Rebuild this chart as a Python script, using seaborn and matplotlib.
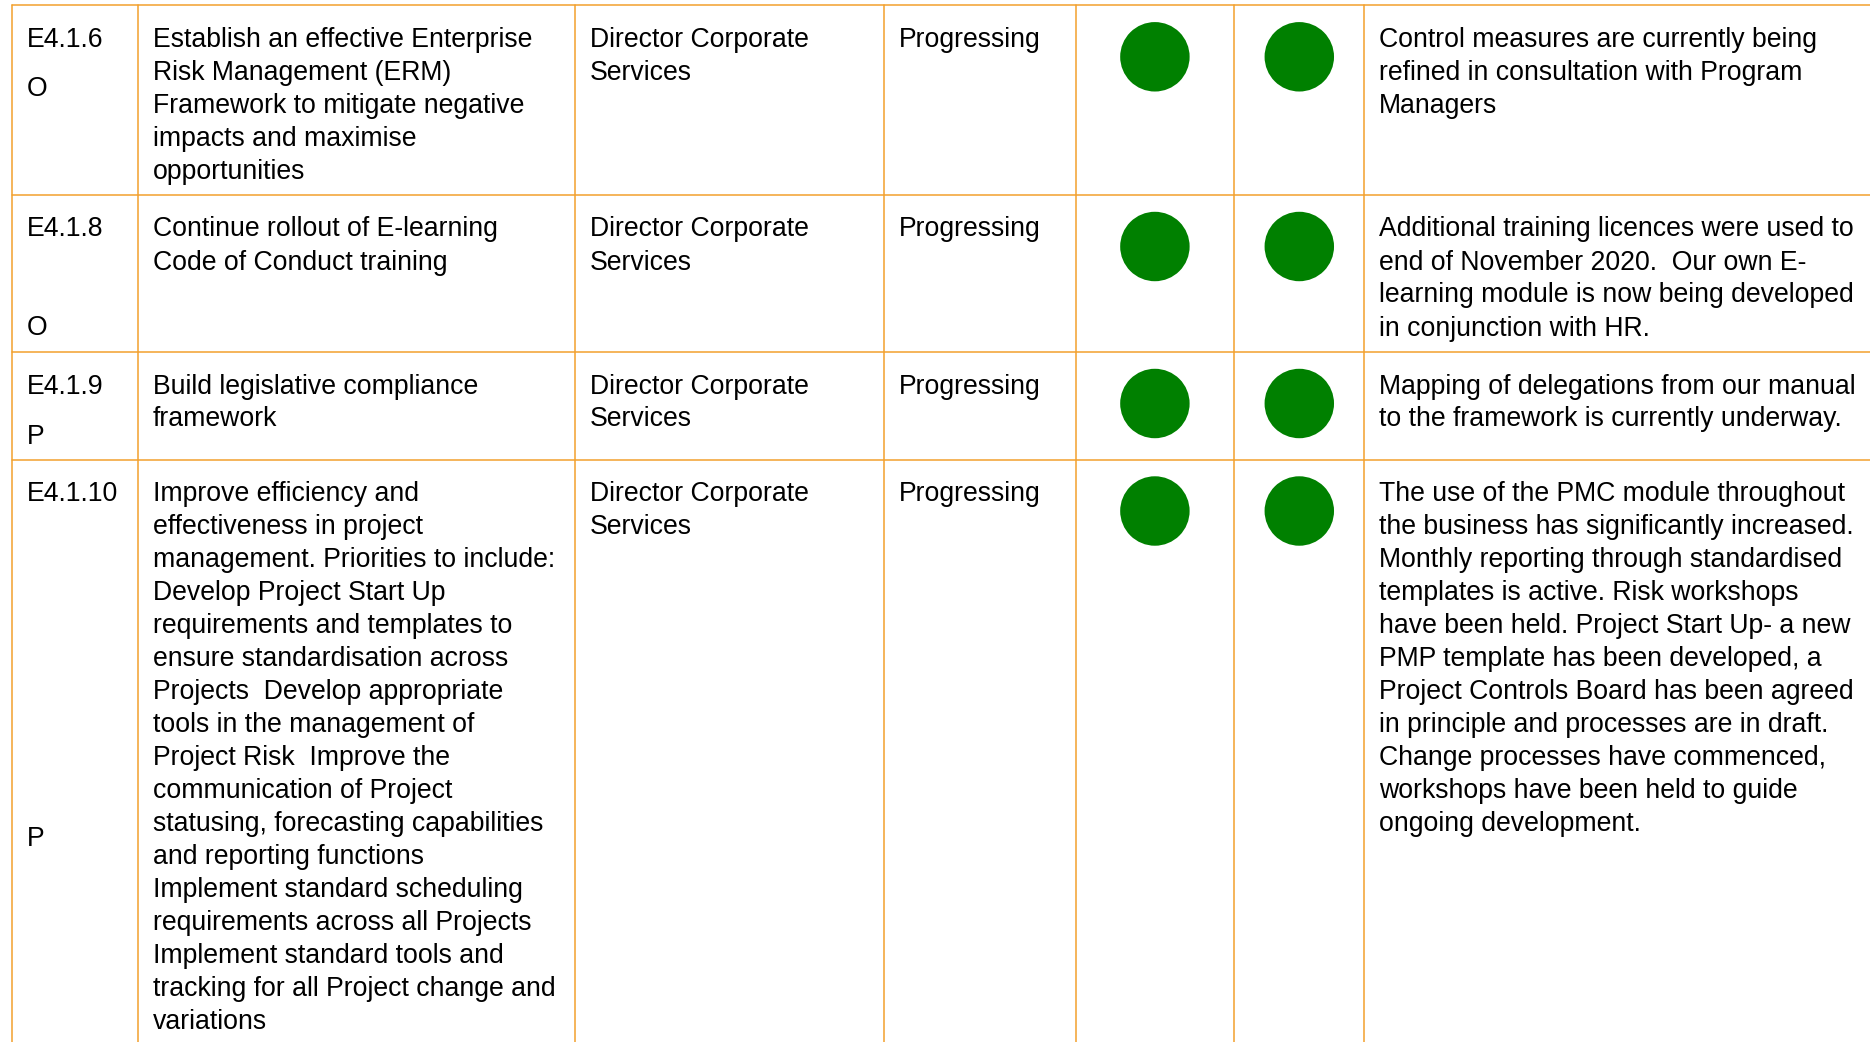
import pandas as pd
import seaborn as sns
import matplotlib.pyplot as plt

# table content, one entry per row
codes = ["E4.1.6", "E4.1.8", "E4.1.9", "E4.1.10"]
types = ["O", "O", "P", "P"]
actions = [
    ["Establish an effective Enterprise", "Risk Management (ERM)",
     "Framework to mitigate negative", "impacts and maximise", "opportunities"],
    ["Continue rollout of E-learning", "Code of Conduct training"],
    ["Build legislative compliance", "framework"],
    ["Improve efficiency and", "effectiveness in project",
     "management. Priorities to include:", "Develop Project Start Up",
     "requirements and templates to", "ensure standardisation across",
     "Projects  Develop appropriate", "tools in the management of",
     "Project Risk  Improve the", "communication of Project",
     "statusing, forecasting capabilities", "and reporting functions",
     "Implement standard scheduling", "requirements across all Projects",
     "Implement standard tools and", "tracking for all Project change and",
     "variations"],
]
owners = [["Director Corporate", "Services"]] * 4
progress = ["Progressing"] * 4
status_prev = ["green", "green", "green", "green"]
status_now = ["green", "green", "green", "green"]
comments = [
    ["Control measures are currently being", "refined in consultation with Program",
     "Managers"],
    ["Additional training licences were used to", "end of November 2020.  Our own E-",
     "learning module is now being developed", "in conjunction with HR."],
    ["Mapping of delegations from our manual", "to the framework is currently underway."],
    ["The use of the PMC module throughout", "the business has significantly increased.",
     "Monthly reporting through standardised", "templates is active. Risk workshops",
     "have been held. Project Start Up- a new", "PMP template has been developed, a",
     "Project Controls Board has been agreed", "in principle and processes are in draft.",
     "Change processes have commenced,", "workshops have been held to guide",
     "ongoing development."],
]

# layout (pixels)
W, H = 1870, 1042
col_edges = [11.7, 138, 574.5, 884, 1075.5, 1234.3, 1364.3]
row_tops = [5.3, 195, 352, 459.5]
type_offset = [91, 140, 92, 386]   # baseline of the O / P letter below row top
text_pad = 15
first_base = 41.5
line_h = 33.0
line_col = "#F2A12E"
dot_colors = {"green": "#008000"}
fs = 19.2

sns.set_theme(style="white")
plt.rcParams['font.family'] = ['Liberation Sans', 'DejaVu Sans']

fig = plt.figure(figsize=(W / 100, H / 100), dpi=100)
ax = fig.add_axes([0, 0, 1, 1])

# grid lines
for y in row_tops:
    ax.plot([col_edges[0], W], [y, y], color=line_col, lw=1.1)
for x in col_edges:
    ax.plot([x, x], [row_tops[0], H], color=line_col, lw=1.1)


def put_lines(x, y0, lines):
    for i, s in enumerate(lines):
        ax.text(x, y0 + i * line_h, s, fontsize=fs, va="baseline", ha="left",
                color="black")


for r in range(len(codes)):
    top = row_tops[r]
    base = top + first_base
    put_lines(col_edges[0] + 15, base, [codes[r]])
    put_lines(col_edges[0] + 15, top + type_offset[r], [types[r]])
    put_lines(col_edges[1] + text_pad, base, actions[r])
    put_lines(col_edges[2] + text_pad, base, owners[r])
    put_lines(col_edges[3] + text_pad, base, [progress[r]])
    put_lines(col_edges[6] + text_pad, base, comments[r])

# status dots, centred in their cells
dots = pd.DataFrame({
    "x": [(col_edges[4] + col_edges[5]) / 2] * len(codes)
         + [(col_edges[5] + col_edges[6]) / 2] * len(codes),
    "y": [t + 51.5 for t in row_tops] * 2,
    "status": status_prev + status_now,
})
sns.scatterplot(data=dots, x="x", y="y", hue="status", palette=dot_colors,
                s=2500, linewidth=0, legend=False, ax=ax, zorder=3)

ax.set_xlim(0, W)
ax.set_ylim(H, 0)
ax.axis("off")

fig.savefig("out.png", dpi=100, facecolor="white")
